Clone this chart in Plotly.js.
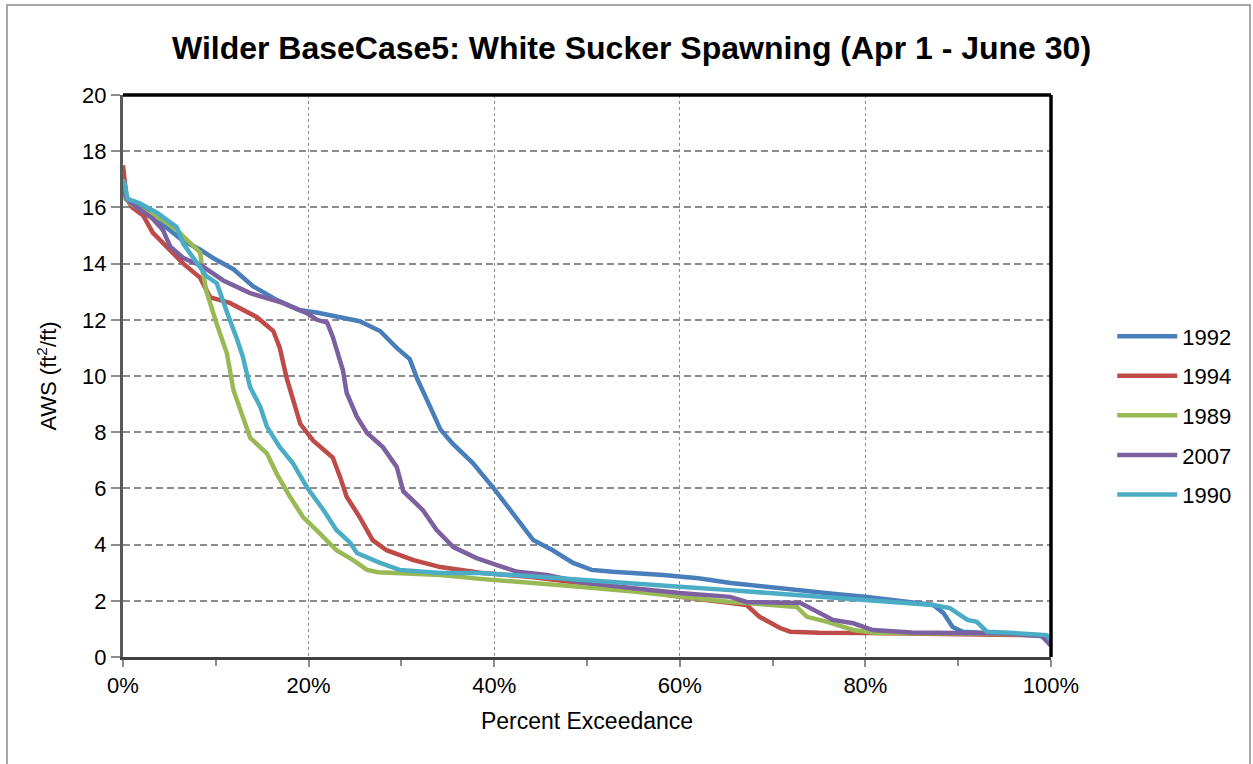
<!DOCTYPE html>
<html>
<head>
<meta charset="utf-8">
<script src="https://cdn.plot.ly/plotly-3.0.1.min.js"></script>
<style>
html,body{margin:0;padding:0;background:#fff;}
#chart{width:1253px;height:764px;}
</style>
</head>
<body>
<div id="chart"></div>
<script>
// Series names (legend order)
const seriesNames = ["1992", "1994", "1989", "2007", "1990"];
const seriesColors = ["#4A7EBB", "#BE4B48", "#98B954", "#7D60A0", "#4BACC6"];

// 1992
const x1992 = [0, 0.3, 1, 2, 3.5, 5, 6.5, 8.3, 9.7, 11.9, 14, 16.6, 19, 21, 23.4, 25.5, 27.7, 29.5, 30.9, 31.7, 33.1, 34.2, 35.5, 37.7, 40.1, 42, 44.2, 46.3, 48.5, 50.5, 52.8, 58.2, 62, 65.5, 69, 73, 76.5, 80.2, 84, 87.3, 88.4, 89.4, 90.5, 94, 98, 99.5, 100];
const y1992 = [16.8, 16.3, 16.15, 16.0, 15.6, 15.2, 14.8, 14.5, 14.2, 13.8, 13.2, 12.7, 12.35, 12.25, 12.1, 11.95, 11.6, 11.0, 10.6, 9.9, 8.9, 8.1, 7.6, 6.9, 5.94, 5.12, 4.16, 3.8, 3.35, 3.1, 3.03, 2.92, 2.8, 2.63, 2.5, 2.38, 2.25, 2.14, 2.0, 1.85, 1.57, 1.07, 0.9, 0.85, 0.8, 0.75, 0.5];

// 1994
const x1994 = [0, 0.2, 0.4, 1, 2.2, 3.2, 4.7, 6.5, 8.3, 9.4, 11.5, 13.7, 14.4, 16.2, 16.9, 17.6, 18.3, 19.1, 20.5, 22.6, 23.4, 24.1, 25.5, 26.9, 28.4, 31.3, 34.2, 38.5, 44, 49.2, 55, 60, 65.4, 67.2, 68.6, 70.8, 71.9, 75, 80.2, 90, 98, 100];
const y1994 = [17.5, 17.0, 16.3, 16.0, 15.7, 15.1, 14.6, 14.0, 13.5, 12.8, 12.6, 12.2, 12.1, 11.6, 11.0, 9.97, 9.25, 8.3, 7.7, 7.1, 6.4, 5.7, 4.98, 4.16, 3.8, 3.45, 3.2, 3.0, 2.85, 2.63, 2.4, 2.14, 1.92, 1.85, 1.43, 1.03, 0.9, 0.86, 0.85, 0.83, 0.78, 0.7];

// 1989
const x1989 = [0, 0.3, 1, 2.6, 4.3, 5.8, 6.9, 8.3, 8.6, 9, 10.1, 11.2, 11.9, 12.9, 13.7, 15.5, 16.6, 18, 19.4, 21.2, 23, 24.8, 26.3, 27.5, 29.5, 34.2, 38.5, 44, 49.2, 55, 60, 65.4, 67.2, 72.6, 73.7, 75.9, 78.7, 81.2, 90, 98, 100];
const y1989 = [16.6, 16.3, 16.1, 15.8, 15.55, 15.2, 14.84, 14.4, 13.7, 13.0, 11.85, 10.8, 9.5, 8.55, 7.8, 7.25, 6.5, 5.7, 4.98, 4.4, 3.8, 3.45, 3.1, 3.02, 2.99, 2.92, 2.78, 2.65, 2.5, 2.33, 2.14, 1.96, 1.92, 1.78, 1.43, 1.25, 0.96, 0.85, 0.84, 0.8, 0.7];

// 2007
const x2007 = [0, 0.4, 1.5, 3.2, 4.3, 5.1, 6.5, 8.6, 10.8, 13.7, 17.2, 19.8, 20.9, 22, 22.6, 23, 23.7, 24.1, 25.2, 26.3, 28, 29.5, 30.2, 32.3, 33.8, 35.6, 38.1, 40.3, 42.5, 45.7, 49.2, 55, 60, 65.4, 67.2, 73, 74.4, 76.5, 78.7, 80.8, 85, 95, 99, 100];
const y2007 = [16.8, 16.3, 16.0, 15.6, 15.2, 14.6, 14.2, 13.9, 13.4, 12.95, 12.6, 12.24, 12.0, 11.9, 11.4, 11.0, 10.2, 9.4, 8.55, 7.97, 7.47, 6.76, 5.9, 5.23, 4.52, 3.91, 3.52, 3.27, 3.03, 2.92, 2.67, 2.45, 2.28, 2.14, 1.96, 1.92, 1.67, 1.32, 1.2, 0.96, 0.87, 0.84, 0.75, 0.4];

// 1990
const x1990 = [0, 0.2, 0.5, 1.8, 3.7, 4.7, 5.8, 6.5, 8, 9, 10.1, 10.8, 11.5, 12.3, 12.9, 13.7, 14.8, 15.5, 16.9, 18.3, 19.8, 21.6, 23, 24.5, 25.2, 27.7, 29.8, 34.2, 38.5, 44, 49.2, 55, 60, 65.4, 73, 80.2, 87.3, 89.1, 91, 92, 93.1, 95, 98, 99.5, 100];
const y1990 = [17.0, 16.8, 16.3, 16.15, 15.8, 15.55, 15.3, 14.7, 14.0, 13.55, 13.3, 12.7, 12.0, 11.3, 10.7, 9.6, 8.9, 8.2, 7.47, 6.9, 6.05, 5.23, 4.52, 4.06, 3.7, 3.35, 3.1, 2.99, 2.99, 2.87, 2.74, 2.62, 2.5, 2.38, 2.2, 2.03, 1.85, 1.74, 1.32, 1.25, 0.9, 0.87, 0.82, 0.78, 0.6];

const xs = [x1992, x1994, x1989, x2007, x1990];
const ys = [y1992, y1994, y1989, y2007, y1990];

const traces = seriesNames.map((n, i) => ({
  type: "scatter",
  mode: "lines",
  name: n,
  legendgroup: n,
  x: xs[i],
  y: ys[i],
  line: {color: seriesColors[i], width: 4.5},
  hoverinfo: "x+y+name"
}));

const font = "Arial, 'Liberation Sans', sans-serif";

const layout = {
  width: 1253,
  height: 764,
  paper_bgcolor: "#ffffff",
  plot_bgcolor: "#ffffff",
  margin: {l: 123, r: 202, t: 95, b: 107},
  font: {family: font, color: "#000", size: 21},
  title: {
    text: "<b>Wilder BaseCase5: White Sucker Spawning (Apr 1 - June 30)</b>",
    font: {family: font, size: 32, color: "#000"},
    x: 0.504, xref: "container", xanchor: "center",
    y: 0.938, yref: "container", yanchor: "middle"
  },
  xaxis: {
    range: [0, 100],
    tick0: 0, dtick: 20,
    ticksuffix: "%",
    showgrid: true,
    gridcolor: "#8c8c8c",
    gridwidth: 1,
    griddash: "3px,3px",
    zeroline: false,
    showline: true,
    linecolor: "#404040",
    linewidth: 3,
    ticks: "outside",
    ticklen: 7,
    tickwidth: 2,
    tickcolor: "#8c8c8c",
    minor: {dtick: 10, ticks: "outside", ticklen: 6, tickwidth: 2, tickcolor: "#8c8c8c", showgrid: false},
    tickfont: {size: 22, family: font},
    title: {text: "Percent Exceedance", font: {size: 23, family: font}, standoff: 16},
    fixedrange: true
  },
  yaxis: {
    range: [0, 20],
    tick0: 0, dtick: 2,
    showgrid: true,
    gridcolor: "#8c8c8c",
    gridwidth: 2,
    griddash: "7px,4px",
    zeroline: false,
    showline: true,
    linecolor: "#595959",
    linewidth: 3,
    ticks: "outside",
    ticklen: 9,
    tickwidth: 2,
    tickcolor: "#8c8c8c",
    tickfont: {size: 22, family: font},
    title: {text: "AWS (ft<sup>2</sup>/ft)", font: {size: 22, family: font}, standoff: 20},
    fixedrange: true
  },
  legend: {
    x: 1.066, xanchor: "left",
    y: 0.43, yanchor: "middle",
    font: {size: 22, family: font},
    itemwidth: 60,
    traceorder: "grouped",
    tracegroupgap: 8,
    bgcolor: "rgba(0,0,0,0)"
  },
  shapes: [
    {type: "line", xref: "paper", yref: "paper", x0: 0, x1: 1, y0: 1, y1: 1, line: {color: "#000", width: 3.5}},
    {type: "line", xref: "paper", yref: "paper", x0: 1, x1: 1, y0: 0, y1: 1, line: {color: "#000", width: 3.5}},
    {type: "rect", xref: "paper", yref: "paper",
     x0: (7 - 123) / 928, x1: (1250 - 123) / 928,
     y0: (657 - 780) / 562, y1: (657 - 5) / 562,
     line: {color: "#8a8a8a", width: 1.5}, fillcolor: "rgba(0,0,0,0)", layer: "below"}
  ],
  showlegend: true
};

Plotly.newPlot("chart", traces, layout, {displayModeBar: false, staticPlot: true});
</script>
</body>
</html>
